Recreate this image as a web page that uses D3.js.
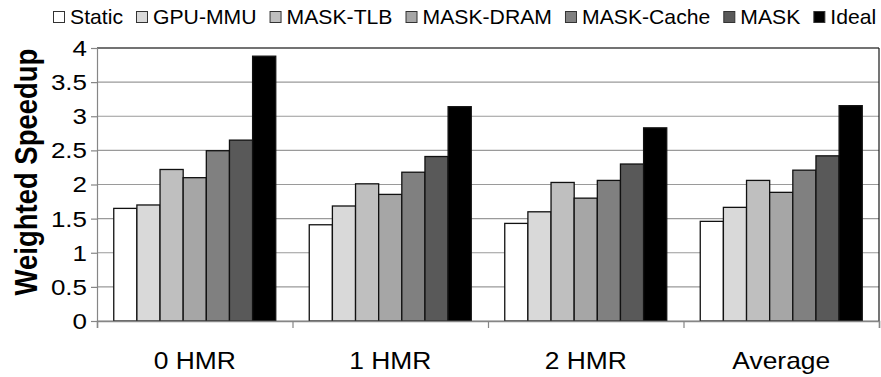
<!DOCTYPE html>
<html>
<head>
<meta charset="utf-8">
<script src="https://cdn.jsdelivr.net/npm/d3@7"></script>
<style>
  html, body { margin: 0; padding: 0; background: #fff; }
  svg { display: block; font-family: "Liberation Sans", Arial, sans-serif; }
</style>
</head>
<body>
<svg id="chart" width="881" height="377"></svg>
<script>
const categories = ["0 HMR", "1 HMR", "2 HMR", "Average"];
const seriesNames = ["Static", "GPU-MMU", "MASK-TLB", "MASK-DRAM", "MASK-Cache", "MASK", "Ideal"];
const seriesColors = ["#ffffff", "#d9d9d9", "#bfbfbf", "#a6a6a6", "#808080", "#595959", "#000000"];
const staticVals    = [1.65, 1.41, 1.43, 1.46];
const gpuMmuVals    = [1.70, 1.685, 1.60, 1.665];
const maskTlbVals   = [2.22, 2.01, 2.03, 2.06];
const maskDramVals  = [2.10, 1.855, 1.80, 1.885];
const maskCacheVals = [2.495, 2.18, 2.06, 2.21];
const maskVals      = [2.65, 2.41, 2.30, 2.42];
const idealVals     = [3.88, 3.14, 2.83, 3.155];
const yTicks = [0, 0.5, 1, 1.5, 2, 2.5, 3, 3.5, 4];
const yTickLabels = ["0", "0.5", "1", "1.5", "2", "2.5", "3", "3.5", "4"];
const yTitle = "Weighted Speedup";

const seriesValues = [staticVals, gpuMmuVals, maskTlbVals, maskDramVals, maskCacheVals, maskVals, idealVals];

const svg = d3.select("#chart");
const plot = { left: 97, right: 879, top: 48, bottom: 321 };

const x0 = d3.scaleBand().domain(categories).range([plot.left, plot.right]).paddingInner(0).paddingOuter(0);
const x1 = d3.scaleBand().domain(seriesNames).range([0, x0.bandwidth()]).paddingInner(0).paddingOuter(0.724);
const y = d3.scaleLinear().domain([0, 4]).range([plot.bottom, plot.top]);

// gridlines
svg.append("g").selectAll("line").data(yTicks).join("line")
  .attr("x1", plot.left).attr("x2", plot.right)
  .attr("y1", d => y(d)).attr("y2", d => y(d))
  .attr("stroke", "#9a9a9a").attr("stroke-width", 1.2);

// plot border top/right
svg.append("line").attr("x1", plot.left).attr("x2", plot.right).attr("y1", plot.top).attr("y2", plot.top)
  .attr("stroke", "#1a1a1a").attr("stroke-width", 1.2);
svg.append("line").attr("x1", plot.right).attr("x2", plot.right).attr("y1", plot.top).attr("y2", plot.bottom)
  .attr("stroke", "#1a1a1a").attr("stroke-width", 1.2);

// bars
const groups = svg.append("g").selectAll("g").data(categories).join("g")
  .attr("transform", c => `translate(${x0(c)},0)`);
groups.selectAll("rect")
  .data((c, ci) => seriesNames.map((s, si) => ({ s, si, v: seriesValues[si][ci] })))
  .join("rect")
  .attr("x", d => x1(d.s))
  .attr("width", x1.bandwidth())
  .attr("y", d => y(d.v))
  .attr("height", d => y(0) - y(d.v))
  .attr("fill", d => seriesColors[d.si])
  .attr("stroke", "#111")
  .attr("stroke-width", 1.3);

// y axis
const yAxis = d3.axisLeft(y).tickValues(yTicks).tickSize(6).tickFormat("");
const yg = svg.append("g").attr("transform", `translate(${plot.left},0)`).call(yAxis);
yg.select(".domain").attr("stroke", "#868686").attr("stroke-width", 1.2);
yg.selectAll(".tick line").attr("stroke", "#868686").attr("stroke-width", 1.2);

// y tick labels (horizontally stretched like the reference)
svg.append("g").selectAll("text").data(yTicks).join("text")
  .attr("transform", (d) => `translate(87,${y(d) + 0.358 * 22}) scale(1.18,1)`)
  .attr("text-anchor", "end")
  .attr("font-size", 22)
  .attr("fill", "#000")
  .text((d, i) => yTickLabels[i]);

// x axis
const xAxisScale = d3.scaleLinear().domain([0, categories.length]).range([plot.left, plot.right]);
const xg = svg.append("g").attr("transform", `translate(0,${plot.bottom})`)
  .call(d3.axisBottom(xAxisScale).tickValues(d3.range(categories.length + 1)).tickSize(7).tickFormat(""));
xg.select(".domain").attr("stroke", "#868686").attr("stroke-width", 1.5);
xg.selectAll(".tick line").attr("stroke", "#868686").attr("stroke-width", 1.2);

// x labels
svg.append("g").selectAll("text").data(categories).join("text")
  .attr("transform", c => `translate(${x0(c) + x0.bandwidth() / 2},369) scale(1.1,1)`)
  .attr("text-anchor", "middle")
  .attr("font-size", 24)
  .attr("fill", "#000")
  .text(c => c);

// y title
svg.append("text")
  .attr("transform", "translate(37,172) scale(1.17,1) rotate(-90)")
  .attr("text-anchor", "middle")
  .attr("font-size", 27.5)
  .attr("font-weight", "bold")
  .attr("fill", "#000")
  .text(yTitle);

// legend
const legend = svg.append("g");
let lx = 53;
const legendScale = 1.06;
seriesNames.forEach((name, i) => {
  const g = legend.append("g");
  g.append("rect").attr("x", lx + 0.5).attr("y", 11.5).attr("width", 11).attr("height", 11)
    .attr("fill", seriesColors[i]).attr("stroke", "#333").attr("stroke-width", 1);
  const t = g.append("text")
    .attr("transform", `translate(${lx + 17},24) scale(${legendScale},1)`)
    .attr("font-size", 20)
    .attr("fill", "#000")
    .text(name);
  const w = t.node().getComputedTextLength() * legendScale;
  lx += 17 + w + 13;
});
</script>
</body>
</html>
